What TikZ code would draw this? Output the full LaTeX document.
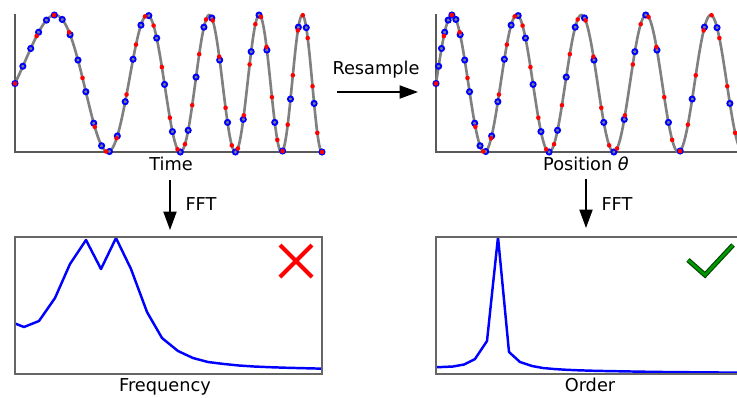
\documentclass[tikz,border=0pt]{standalone}
\usepackage{fontspec}
\setmainfont{DejaVu Sans}
\usetikzlibrary{arrows.meta}

\begin{document}
\begin{tikzpicture}[x=0.02cm, y=-0.02cm,
    every node/.style={font=\fontsize{10.1}{12}\selectfont, inner sep=0pt, anchor=base},
    spine/.style={draw=black!65, line width=0.95pt},
    frame/.style={draw=black!60, line width=0.7pt},
    signal/.style={draw=gray, line width=1.5pt},
    spec/.style={draw=blue, line width=1.4pt, line join=round},
    flow/.style={-{Triangle[length=10.5pt, width=7.5pt]}, line width=0.85pt},
    orig/.style={draw=blue, line width=1.1pt},
    resamp/.style={fill=red}]
    \useasboundingbox (0,0) rectangle (737,397);
    \clip (0,0) rectangle (737,397);
    % arrow ends
    \coordinate (rsA) at (337,92);
    \coordinate (rsB) at (418,92);
    \coordinate (ftA) at (170,180);
    \coordinate (ftB) at (170,230);
    \coordinate (foA) at (586,179);
    \coordinate (foB) at (586,228);
    % time signal
    \draw[spine] (15,14) -- (15,152) -- (322,152);
    \draw[signal] plot[domain=0:1, samples=300] ({15+307*\x}, {83.5-68.5*sin(540*\x+1170*\x*\x)});
    \foreach \i in {0,...,39} {
        \pgfmathsetmacro\ts{\i/39}
        \pgfmathsetmacro\ph{540*\ts+1170*\ts*\ts}
        \draw[orig] ({15+307*\ts}, {83.5-68.5*sin(\ph)}) circle[radius=1.45pt];
    }
    \foreach \j in {0,...,39} {
        \pgfmathsetmacro\rth{\j/39}
        \pgfmathsetmacro\ts{(-3+sqrt(9+247*\rth))/13}
        \fill[resamp] ({15+307*\ts}, {83.5-68.5*sin(1710*\rth)}) circle[radius=1.3pt];
    }
    \node (time) at (171,170.5) {Time};
    % angle signal
    \draw[spine] (436,14) -- (436,152) -- (740,152);
    \draw[signal] plot[domain=0:0.99, samples=300] ({436+307*\x}, {83.5-68.5*sin(1710*\x)});
    \foreach \i in {0,...,39} {
        \pgfmathsetmacro\ts{\i/39}
        \pgfmathsetmacro\ph{540*\ts+1170*\ts*\ts}
        \draw[orig] ({436+\ph/1710*307}, {83.5-68.5*sin(\ph)}) circle[radius=1.45pt];
    }
    \foreach \j in {0,...,39} {
        \pgfmathsetmacro\rth{\j/39}
        \fill[resamp] ({436+307*\rth}, {83.5-68.5*sin(1710*\rth)}) circle[radius=1.3pt];
    }
    \node (posn) at (586,170.5) {Position \textit{θ}};
    % steps
    \draw[flow] (rsA) -- (rsB);
    \node (resample) at (376,74) {Resample};
    \draw[flow] (ftA) -- (ftB);
    \node (fftl) at (201,210) {FFT};
    \draw[flow] (foA) -- (foB);
    \node (fftr) at (617,210) {FFT};
    % spectra
    \begin{scope}
        \clip (15,237) rectangle (322,374);
        \draw[spec] plot coordinates {(8.7,321) (24,327) (39,321) (55,298) (70,264) (86,240) (101,269) (116,238) (131,269) (147,312) (162,338) (178,351) (193,358) (208,362) (224,364) (239,365.5) (254,366.5) (270,367.2) (285,367.7) (300,368.1) (316,368.5) (331,368.8)};
    \end{scope}
    \draw[frame] (15,237) rectangle (322,374);
    \node (freq) at (165,391) {Frequency};
    \begin{scope}
        \clip (436,237) rectangle (745,374);
        \draw[spec] plot coordinates {(431,367.5) (442,367) (453,366.5) (464,364.5) (475,359) (487,341) (498,237) (509,352) (520,362) (532,366) (543,368) (554,369) (565,369.7) (576,370.2) (588,370.6) (599,370.9) (610,371.1) (621,371.3) (632,371.5) (644,371.7) (655,371.9) (666,372) (677,372.1) (688,372.2) (700,372.3) (711,372.4) (722,372.5) (733,372.6) (744,372.7)};
    \end{scope}
    \draw[frame] (436,237) rectangle (745,374);
    \node (order) at (590,391) {Order};
    % verdict marks
    \draw[red, line width=2.4pt] (280,245) -- (312,277) (280,277) -- (312,245);
    \coordinate (ck1) at (688,260);
    \coordinate (ck2) at (705,275);
    \coordinate (ck3) at (733,245);
    \draw[black!75!green, line width=2.8pt] (ck1) -- (ck2) -- (ck3);
    \draw[green!60!black, line width=1.5pt] (ck1) -- (ck2) -- (ck3);
\end{tikzpicture}
\end{document}
